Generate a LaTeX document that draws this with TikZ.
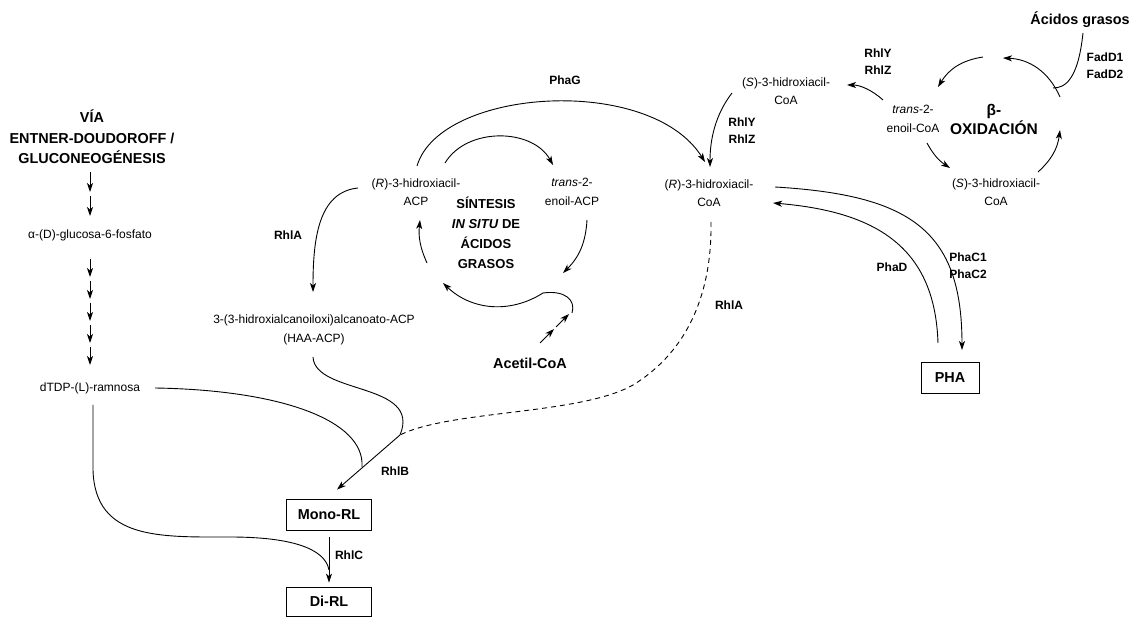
\documentclass[tikz,border=0pt]{standalone}
\usepackage{fontspec}
\setmainfont{Liberation Sans}
\usepackage{tikz}
\usetikzlibrary{arrows.meta}
\usetikzlibrary{calc}
\tikzstyle{met}=[align=center,inner sep=1pt,font=\fontsize{12}{18.5}\selectfont]
\tikzstyle{enz}=[align=center,inner sep=1pt,font=\fontsize{12}{17}\selectfont\bfseries]
\tikzstyle{head}=[align=center,inner sep=1pt,font=\fontsize{14.4}{20.5}\selectfont\bfseries]
\tikzstyle{prod}=[draw,line width=0.8pt,inner sep=0pt,minimum width=85pt,minimum height=31pt,font=\fontsize{14.4}{17}\selectfont\bfseries]
\tikzstyle{rx}=[-{Stealth[length=9pt,width=6pt,inset=2.5pt]}]

\begin{document}
\begin{tikzpicture}[x=1pt,y=-1pt,line width=0.9pt]
\useasboundingbox (0,0) rectangle (1133,617);

% via Entner-Doudoroff
\node [head] (via) at (92,137) {VÍA\\ENTNER-DOUDOROFF /\\GLUCONEOGÉNESIS};
\node [met] (glc) at (90,235) {α-(D)-glucosa-6-fosfato};
\node [met] (dtdp) at (90,388) {dTDP-(L)-ramnosa};
\foreach \i/\y in {1/172,2/196} {
  \coordinate (va\i) at (90,\y); \coordinate (vb\i) at (90,\y+20);
  \draw [rx] (va\i) -- (vb\i);
}
\foreach \i/\y in {1/259,2/281,3/303,4/325,5/347} {
  \coordinate (wa\i) at (90,\y); \coordinate (wb\i) at (90,\y+18);
  \draw [rx] (wa\i) -- (wb\i);
}

% sintesis in situ
\node [met] (racp) at (416,192) {(\textit{R})-3-hidroxiacil-\\ACP};
\node [met] (tacp) at (572,192) {\textit{trans}-2-\\enoil-ACP};
\node [head,font=\fontsize{13}{20}\selectfont\bfseries] (sin) at (486,233) {SÍNTESIS\\\textit{IN SITU} DE\\ÁCIDOS\\GRASOS};
\node [head] (acet) at (530,363) {Acetil-CoA};
\node [met] (haa) at (314,330) {3-(3-hidroxialcanoiloxi)alcanoato-ACP\\(HAA-ACP)};
\coordinate (fa1) at (445,163); \coordinate (fa2) at (553,165);
\coordinate (fa3) at (587,220); \coordinate (fa4) at (563,273);
\coordinate (fa5) at (543,293); \coordinate (fa6) at (443,283);
\coordinate (fa7) at (427,263); \coordinate (fa8) at (420,220);
\draw [rx] (fa1) to [bend left=60] (fa2);
\draw [rx] (fa3) to [bend left=21] (fa4);
\draw [rx] (fa5) to [bend left=38] (fa6);
\draw [rx] (fa7) to [bend left=15] (fa8);
\coordinate (hk) at (572,313);
\draw (fa5) .. controls (565,290) and (576,300) .. (hk);
\coordinate (ac1) at (540,343); \coordinate (ac2) at (554,329);
\coordinate (ac3) at (556,327); \coordinate (ac4) at (569,314);
\draw [rx] (ac1) -- (ac2);
\draw [rx] (ac3) -- (ac4);

% RhlA hacia HAA-ACP
\coordinate (ra0) at (358,188); \coordinate (ra1) at (313,292);
\draw [rx] (ra0) .. controls (318,192) and (313,240) .. (ra1);
\node [enz] (rhla) at (288,235) {RhlA};

% PhaG
\node [met] (rcoa) at (709,193) {(\textit{R})-3-hidroxiacil-\\CoA};
\node [enz] (phag) at (565,80) {PhaG};
\coordinate (pg0) at (417,166); \coordinate (pg1) at (705,162);
\draw [rx] (pg0) .. controls (440,88) and (650,74) .. (pg1);

% beta-oxidacion
\node [head] (acg) at (1080,20) {Ácidos grasos};
\node [enz] (fadd) at (1105,66) {FadD1\\FadD2};
\node [met] (tcoa) at (913,119) {\textit{trans}-2-\\enoil-CoA};
\node [head,font=\fontsize{15.5}{19}\selectfont\bfseries] (box) at (994,119) {β-\\OXIDACIÓN};
\node [met] (scoa) at (996,192) {(\textit{S})-3-hidroxiacil-\\CoA};
\node [met] (scoa2) at (786,91) {(\textit{S})-3-hidroxiacil-\\CoA};
\node [enz] (rhly) at (878,62) {RhlY\\RhlZ};
\node [enz] (rhly2) at (742,131) {RhlY\\RhlZ};
\coordinate (b1) at (983,57); \coordinate (b2) at (938,87);
\coordinate (b3) at (927,143); \coordinate (b4) at (950,168);
\coordinate (b5) at (1038,172); \coordinate (b6) at (1060,130);
\coordinate (b7) at (1060,97); \coordinate (b8) at (1003,58);
\draw [rx] (b1) to [bend right=25] (b2);
\draw [rx] (b3) to [bend right=14] (b4);
\draw [rx] (b5) to [bend right=20] (b6);
\draw [rx] (b7) to [bend right=32] (b8);
\coordinate (fd0) at (1083,33); \coordinate (fd1) at (1053,88);
\draw (fd0) .. controls (1078,80) and (1065,88) .. (fd1);
\coordinate (ry0) at (883,100); \coordinate (ry1) at (847,85);
\draw [rx] (ry0) .. controls (872,90) and (860,85) .. (ry1);
\coordinate (rz0) at (732,93); \coordinate (rz1) at (710,167);
\draw [rx] (rz0) .. controls (715,115) and (710,140) .. (rz1);

% PHA
\node [prod,minimum width=58pt] (pha) at (950,377.5) {PHA};
\node [enz] (phad) at (892,267) {PhaD};
\node [enz] (phac) at (968,266) {PhaC1\\PhaC2};
\coordinate (pc0) at (775,187); \coordinate (pc1) at (962,350);
\draw [rx] (pc0) .. controls (910,195) and (962,230) .. (pc1);
\coordinate (pd0) at (938,343); \coordinate (pd1) at (773,203);
\draw [rx] (pd0) .. controls (935,250) and (880,212) .. (pd1);

% ramnolipidos
\node [prod] (mono) at (329,514.5) {Mono-RL};
\node [prod,minimum height=29pt] (di) at (329,601.5) {Di-RL};
\coordinate (jb) at (400,435); \coordinate (jb2) at (362,467);
\coordinate (dt0) at (155,388); \coordinate (ha0) at (313,357);
\draw (dt0) .. controls (280,390) and (365,420) .. (jb2);
\draw (ha0) .. controls (315,395) and (422,382) .. (jb);
\draw [rx] (jb) -- ([xshift=8pt,yshift=9pt]mono.north);
\node [enz] (rhlb) at (395,471) {RhlB};
\coordinate (rd0) at (711,222); \coordinate (rd1) at (633,385);
\draw [dash pattern=on 5pt off 4pt] (rd0) .. controls (712,290) and (690,350) .. (rd1)
  .. controls (580,415) and (450,410) .. (jb);
\node [enz] (rhla2) at (729,305) {RhlA};
\draw [rx] ([yshift=-7pt]mono.south) -- ([yshift=4pt]di.north);
\node [enz] (rhlc) at (349,555) {RhlC};
\coordinate (dt1) at (93,405); \coordinate (dt2) at (329,570);
\draw (dt1) -- (93,470) .. controls (95,540) and (160,537) .. (230,537)
  .. controls (290,537) and (325,548) .. (dt2);

\end{tikzpicture}
\end{document}
